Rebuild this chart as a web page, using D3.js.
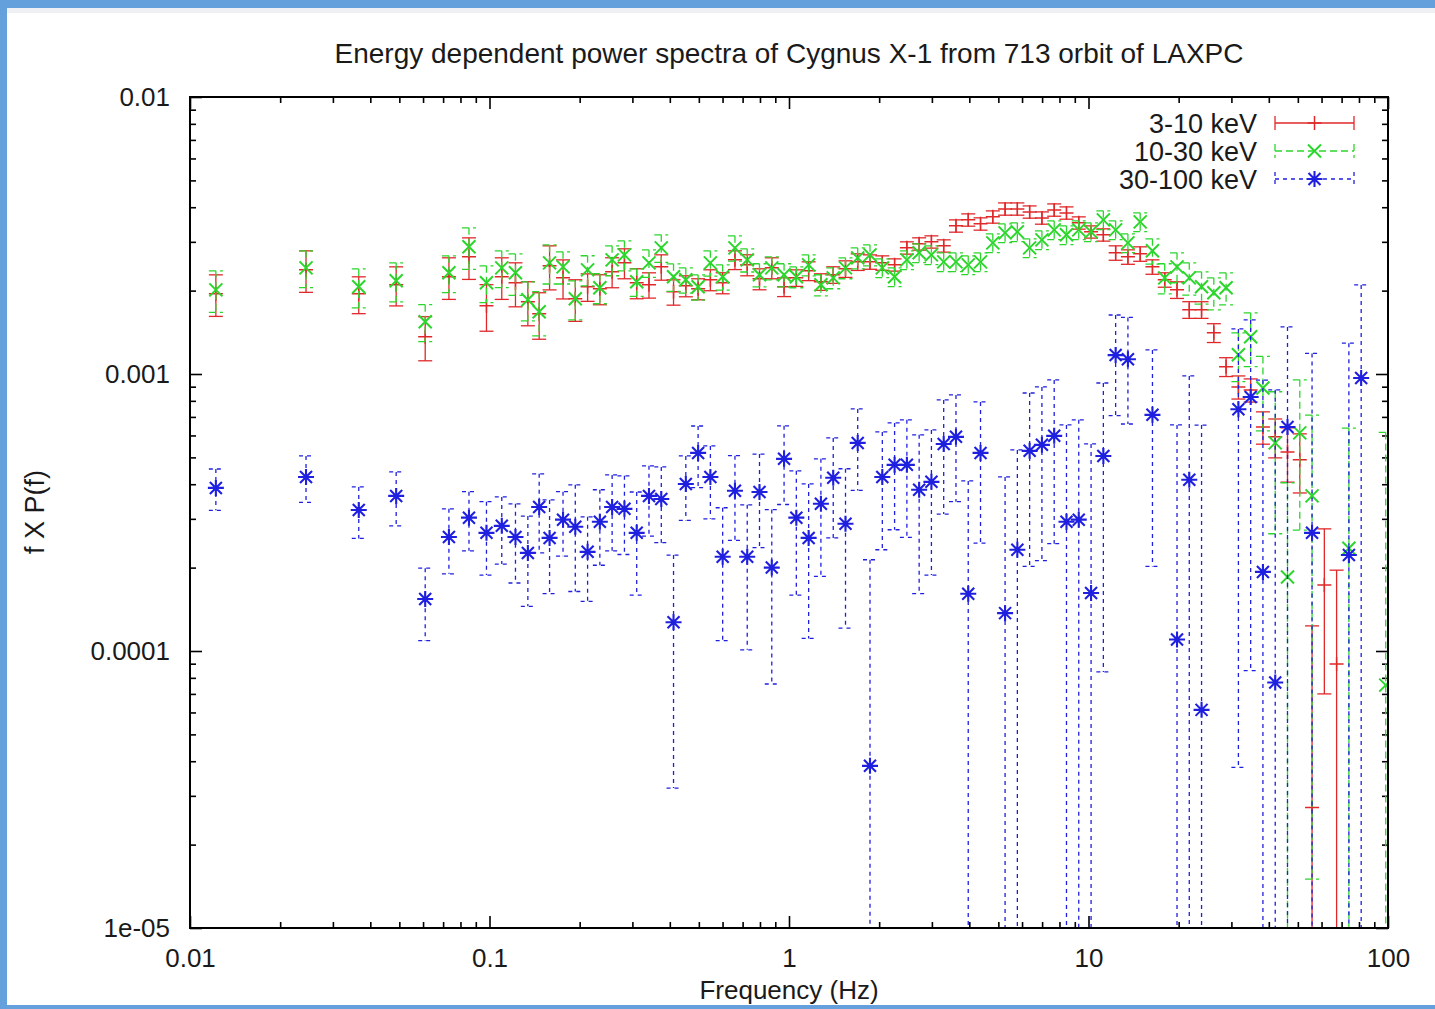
<!DOCTYPE html>
<html>
<head>
<meta charset="utf-8">
<script src="https://cdn.jsdelivr.net/npm/d3@7"></script>
<style>
  html, body { margin: 0; padding: 0; background: #fff; }
  svg { display: block; }
</style>
</head>
<body>
<svg id="chart" width="1435" height="1009"></svg>
<script>
// ---------------- DATA ----------------
const titleText = "Energy dependent power spectra of Cygnus X-1 from 713 orbit of LAXPC";
const xAxisLabel = "Frequency (Hz)";
const yAxisLabel = "f X P(f)";
const seriesNames = ["3-10 keV", "10-30 keV", "30-100 keV"];

const xTickValues = [0.01, 0.1, 1, 10, 100];
const xTickLabels = ["0.01", "0.1", "1", "10", "100"];
const yTickValues = [0.01, 0.001, 0.0001, 0.00001];
const yTickLabels = ["0.01", "0.001", "0.0001", "1e-05"];

const freqs = [
  0.0122, 0.0244, 0.0366, 0.0488, 0.0610, 0.0732, 0.0854, 0.0977, 0.1099, 0.1221, 0.1343, 0.1465, 0.1587,
  0.1760, 0.1934, 0.2126, 0.2336, 0.2567, 0.2822, 0.3101, 0.3408, 0.3746, 0.4116,
  0.4524, 0.4972, 0.5464, 0.6005, 0.6600, 0.7253, 0.7971, 0.8760, 0.9628, 1.058,
  1.163, 1.278, 1.405, 1.544, 1.696, 1.864, 2.049, 2.252, 2.475, 2.720,
  2.989, 3.285, 3.610, 3.967, 4.360, 4.792, 5.266, 5.787, 6.360, 6.990,
  7.682, 8.443, 9.278, 10.20, 11.21, 12.32, 13.54, 14.88, 16.35, 17.97,
  19.75, 21.70, 23.85, 26.21, 28.80, 31.66, 34.79, 38.23, 42.02, 46.18,
  50.75, 55.77, 61.30, 67.36, 74.03, 81.36, 89.42, 98.27
];

// 3-10 keV
const softVals = [
  1.947e-3, 2.377e-3, 1.947e-3, 2.099e-3, 1.363e-3, 2.243e-3, 2.648e-3, 1.764e-3, 2.243e-3, 2.134e-3, 1.823e-3, 1.650e-3, 2.457e-3,
  2.224e-3, 1.869e-3, 2.064e-3, 2.030e-3, 2.338e-3, 2.519e-3, 2.134e-3, 2.099e-3, 2.437e-3, 1.980e-3,
  2.081e-3, 2.030e-3, 2.188e-3, 2.134e-3, 2.583e-3, 2.478e-3, 2.206e-3, 2.417e-3, 2.064e-3, 2.224e-3,
  2.357e-3, 2.152e-3, 2.281e-3, 2.397e-3, 2.540e-3, 2.540e-3, 2.519e-3, 2.478e-3, 2.854e-3, 2.951e-3,
  3.000e-3, 2.902e-3, 3.426e-3, 3.601e-3, 3.484e-3, 3.692e-3, 3.945e-3, 3.945e-3, 3.848e-3, 3.661e-3,
  3.912e-3, 3.816e-3, 3.513e-3, 3.260e-3, 3.180e-3, 2.738e-3, 2.648e-3, 2.715e-3, 2.437e-3, 2.188e-3,
  2.013e-3, 1.706e-3, 1.706e-3, 1.409e-3, 1.062e-3, 8.98e-4, 8.76e-4, 6.44e-4, 5.93e-4, 5.23e-4,
  4.90e-4, 2.72e-5, 1.73e-4, 8.98e-5, null, null, null, null
];
const softErrs = [
  3.33e-4, 4.06e-4, 2.96e-4, 3.38e-4, 2.47e-4, 3.84e-4, 4.53e-4, 3.37e-4, 3.84e-4, 3.86e-4, 3.30e-4, 3.15e-4, 4.45e-4,
  3.58e-4, 3.20e-4, 2.35e-4, 2.52e-4, 2.90e-4, 3.12e-4, 2.65e-4, 2.20e-4, 2.56e-4, 2.08e-4,
  1.81e-4, 1.77e-4, 1.90e-4, 1.86e-4, 2.01e-4, 2.16e-4, 1.92e-4, 2.10e-4, 1.61e-4, 1.53e-4,
  1.84e-4, 1.48e-4, 1.57e-4, 1.65e-4, 1.75e-4, 1.52e-4, 1.51e-4, 1.26e-4, 1.46e-4, 1.51e-4,
  1.53e-4, 1.48e-4, 1.75e-4, 1.84e-4, 1.78e-4, 1.88e-4, 2.01e-4, 2.01e-4, 1.96e-4, 1.87e-4,
  2.00e-4, 1.95e-4, 1.79e-4, 1.66e-4, 1.62e-4, 1.64e-4, 1.59e-4, 1.63e-4, 1.46e-4, 1.31e-4,
  1.39e-4, 1.18e-4, 1.18e-4, 1.10e-4, 8.3e-5, 8.6e-5, 8.4e-5, 8.6e-5, 9.5e-5, 1.16e-4,
  1.18e-4, 9.6e-5, 1.03e-4, 1.06e-4, null, null, null, null
];

// 10-30 keV
const midVals = [
  2.013e-3, 2.417e-3, 2.064e-3, 2.170e-3, 1.544e-3, 2.319e-3, 2.878e-3, 2.134e-3, 2.417e-3, 2.319e-3, 1.853e-3, 1.678e-3, 2.519e-3,
  2.437e-3, 1.869e-3, 2.377e-3, 2.047e-3, 2.583e-3, 2.692e-3, 2.152e-3, 2.519e-3, 2.854e-3, 2.243e-3,
  2.188e-3, 2.064e-3, 2.519e-3, 2.243e-3, 2.854e-3, 2.583e-3, 2.281e-3, 2.417e-3, 2.281e-3, 2.243e-3,
  2.478e-3, 2.099e-3, 2.224e-3, 2.417e-3, 2.626e-3, 2.692e-3, 2.417e-3, 2.243e-3, 2.583e-3, 2.738e-3,
  2.692e-3, 2.540e-3, 2.540e-3, 2.478e-3, 2.540e-3, 2.975e-3, 3.233e-3, 3.260e-3, 2.854e-3, 3.050e-3,
  3.314e-3, 3.180e-3, 3.314e-3, 3.260e-3, 3.601e-3, 3.314e-3, 2.975e-3, 3.542e-3, 2.784e-3, 2.224e-3,
  2.437e-3, 2.224e-3, 2.064e-3, 1.964e-3, 2.047e-3, 1.173e-3, 1.363e-3, 8.90e-4, 5.64e-4, 1.85e-4,
  6.13e-4, 3.63e-4, null, null, 2.35e-4, null, null, 7.53e-5
];
const midErrs = [
  3.44e-4, 3.67e-4, 3.32e-4, 3.49e-4, 2.35e-4, 3.52e-4, 4.92e-4, 3.24e-4, 3.67e-4, 3.97e-4, 2.98e-4, 3.04e-4, 4.06e-4,
  3.24e-4, 3.01e-4, 2.95e-4, 2.54e-4, 3.20e-4, 3.34e-4, 2.45e-4, 2.87e-4, 3.25e-4, 2.56e-4,
  2.30e-4, 2.17e-4, 2.64e-4, 2.36e-4, 3.00e-4, 2.48e-4, 2.19e-4, 2.32e-4, 2.19e-4, 1.95e-4,
  2.16e-4, 1.83e-4, 1.93e-4, 2.10e-4, 2.28e-4, 2.34e-4, 1.89e-4, 1.75e-4, 2.01e-4, 2.14e-4,
  2.10e-4, 1.98e-4, 1.98e-4, 1.93e-4, 1.98e-4, 2.32e-4, 2.52e-4, 2.54e-4, 2.23e-4, 2.38e-4,
  2.58e-4, 2.48e-4, 2.58e-4, 2.54e-4, 2.81e-4, 2.58e-4, 2.32e-4, 2.76e-4, 2.92e-4, 2.76e-4,
  3.02e-4, 2.96e-4, 2.75e-4, 2.61e-4, 2.72e-4, 2.35e-4, 3.00e-4, 2.67e-4, 2.99e-4, 2.20e-4,
  3.40e-4, 3.48e-4, null, null, 4.03e-4, null, null, 5.40e-4
];

// 30-100 keV
const hardVals = [
  3.88e-4, 4.25e-4, 3.23e-4, 3.63e-4, 1.54e-4, 2.58e-4, 3.03e-4, 2.67e-4, 2.83e-4, 2.58e-4, 2.26e-4, 3.31e-4, 2.56e-4,
  2.98e-4, 2.81e-4, 2.28e-4, 2.93e-4, 3.31e-4, 3.26e-4, 2.67e-4, 3.63e-4, 3.54e-4, 1.27e-4,
  4.01e-4, 5.19e-4, 4.25e-4, 2.19e-4, 3.79e-4, 2.19e-4, 3.75e-4, 2.00e-4, 4.94e-4, 3.03e-4,
  2.56e-4, 3.40e-4, 4.22e-4, 2.88e-4, 5.64e-4, 3.85e-5, 4.25e-4, 4.70e-4, 4.70e-4, 3.82e-4,
  4.08e-4, 5.59e-4, 5.93e-4, 1.61e-4, 5.19e-4, null, 1.37e-4, 2.32e-4, 5.28e-4, 5.55e-4,
  5.98e-4, 2.93e-4, 2.98e-4, 1.62e-4, 5.06e-4, 1.17e-3, 1.13e-3, null, 7.12e-4, null,
  1.10e-4, 4.15e-4, 6.13e-5, null, null, 7.46e-4, 8.26e-4, 1.93e-4, 7.7e-5, 6.44e-4,
  null, 2.67e-4, null, null, 2.22e-4, 9.67e-4, null, null
];
const hardErrs = [
  6.6e-5, 8.1e-5, 6.8e-5, 8.0e-5, 4.5e-5, 6.8e-5, 7.3e-5, 7.9e-5, 7.7e-5, 8.2e-5, 8.1e-5, 1.05e-4, 9.5e-5,
  7.8e-5, 1.17e-4, 7.7e-5, 8.9e-5, 1.01e-4, 1.03e-4, 1.08e-4, 1.03e-4, 1.08e-4, 9.5e-5,
  1.05e-4, 1.30e-4, 1.25e-4, 1.10e-4, 1.28e-4, 1.18e-4, 1.39e-4, 1.24e-4, 1.56e-4, 1.44e-4,
  1.45e-4, 1.54e-4, 1.66e-4, 1.67e-4, 1.84e-4, 1.75e-4, 1.93e-4, 1.96e-4, 2.13e-4, 2.21e-4,
  2.20e-4, 2.47e-4, 2.47e-4, 2.50e-4, 2.74e-4, null, 2.88e-4, 3.00e-4, 3.26e-4, 3.43e-4,
  3.54e-4, 3.62e-4, 3.85e-4, 3.97e-4, 4.22e-4, 4.63e-4, 4.70e-4, null, 5.10e-4, null,
  5.45e-4, 5.69e-4, 5.93e-4, null, null, 7.08e-4, 7.41e-4, 7.58e-4, 8.0e-4, 8.35e-4,
  null, 9.2e-4, null, null, 1.07e-3, 1.13e-3, null, null
];

// ---------------- LAYOUT / STYLE ----------------
const W = 1435, H = 1009;
const PL = 190, PR = 1388, PT = 97, PB = 928;
const FONT = '"Liberation Sans", Arial, Helvetica, sans-serif';
const TEXT_COLOR = "#1a1a1a";

const svg = d3.select("#chart");
svg.append("rect").attr("width", W).attr("height", H).attr("fill", "#fff");

const x = d3.scaleLog().domain([0.01, 100]).range([PL, PR]);
const y = d3.scaleLog().domain([1e-5, 0.01]).range([PB, PT]);

svg.append("defs").append("clipPath").attr("id", "plotclip")
  .append("rect").attr("x", PL).attr("y", PT).attr("width", PR - PL).attr("height", PB - PT);

// ---------- axes ----------
function isMajor(list, t) { return list.some(m => Math.abs(m - t) / m < 1e-6); }
const xMinor = x.ticks().filter(t => !isMajor(xTickValues, t));
const yMinor = y.ticks().filter(t => !isMajor(yTickValues, t));

function styleAxis(g) {
  g.select(".domain").remove();
  g.selectAll(".tick line").attr("stroke", "#000").attr("stroke-width", 1.6);
  g.selectAll(".tick text").attr("font-family", FONT).attr("font-size", 26).attr("fill", TEXT_COLOR);
}

// bottom
svg.append("g").attr("transform", `translate(0,${PB})`)
  .call(d3.axisBottom(x).tickValues(xMinor).tickSize(-6).tickSizeOuter(0).tickFormat(""))
  .call(styleAxis);
svg.append("g").attr("transform", `translate(0,${PB})`)
  .call(d3.axisBottom(x).tickValues(xTickValues).tickSize(-12).tickSizeOuter(0).tickPadding(21)
    .tickFormat((d, i) => xTickLabels[i]))
  .call(styleAxis);
// top
svg.append("g").attr("transform", `translate(0,${PT})`)
  .call(d3.axisTop(x).tickValues(xMinor).tickSize(-6).tickSizeOuter(0).tickFormat(""))
  .call(styleAxis);
svg.append("g").attr("transform", `translate(0,${PT})`)
  .call(d3.axisTop(x).tickValues(xTickValues).tickSize(-12).tickSizeOuter(0).tickFormat(""))
  .call(styleAxis);
// left
svg.append("g").attr("transform", `translate(${PL},0)`)
  .call(d3.axisLeft(y).tickValues(yMinor).tickSize(-6).tickSizeOuter(0).tickFormat(""))
  .call(styleAxis);
svg.append("g").attr("transform", `translate(${PL},0)`)
  .call(d3.axisLeft(y).tickValues(yTickValues).tickSize(-12).tickSizeOuter(0).tickPadding(20)
    .tickFormat((d, i) => yTickLabels[i]))
  .call(styleAxis);
// right
svg.append("g").attr("transform", `translate(${PR},0)`)
  .call(d3.axisRight(y).tickValues(yMinor).tickSize(-6).tickSizeOuter(0).tickFormat(""))
  .call(styleAxis);
svg.append("g").attr("transform", `translate(${PR},0)`)
  .call(d3.axisRight(y).tickValues(yTickValues).tickSize(-12).tickSizeOuter(0).tickFormat(""))
  .call(styleAxis);

// ---------- series ----------
const markerPaths = {
  plus: "M-7,0H7M0,-7V7",
  cross: "M-6.5,-6.5L6.5,6.5M-6.5,6.5L6.5,-6.5",
  star: "M-8,0H8M0,-8V8M-6,-6L6,6M-6,6L6,-6"
};

const series = [
  { name: seriesNames[0], vals: softVals, errs: softErrs, color: "#e0282a", dash: null, marker: "plus", mw: 1.5 },
  { name: seriesNames[1], vals: midVals, errs: midErrs, color: "#2bd62b", dash: "7,4", marker: "cross", mw: 2 },
  { name: seriesNames[2], vals: hardVals, errs: hardErrs, color: "#1f1fe0", dash: "4,4", marker: "star", mw: 2.1 }
];

const CAP = 7;
const plotG = svg.append("g").attr("clip-path", "url(#plotclip)");

series.forEach(s => {
  const pts = freqs.map((f, i) => ({ f, v: s.vals[i], e: s.errs[i] }))
    .filter(p => p.v !== null && p.v > 0);
  const g = plotG.append("g");
  const eb = g.append("g").attr("stroke", s.color).attr("stroke-width", 1.3).attr("fill", "none");
  if (s.dash) eb.attr("stroke-dasharray", s.dash);
  pts.forEach(p => {
    const cx = x(p.f);
    const hi = p.v + p.e, lo = p.v - p.e;
    const yHi = y(hi);
    const yLo = lo > 0 ? y(lo) : PB + 20;
    eb.append("line").attr("x1", cx).attr("x2", cx).attr("y1", yHi).attr("y2", yLo);
    eb.append("line").attr("x1", cx - CAP).attr("x2", cx + CAP).attr("y1", yHi).attr("y2", yHi);
    if (lo > 0) eb.append("line").attr("x1", cx - CAP).attr("x2", cx + CAP).attr("y1", yLo).attr("y2", yLo);
  });
  g.append("g").selectAll("path").data(pts).join("path")
    .attr("d", markerPaths[s.marker])
    .attr("transform", p => `translate(${x(p.f)},${y(p.v)})`)
    .attr("stroke", s.color).attr("stroke-width", s.mw).attr("fill", "none");
});

// frame
svg.append("rect").attr("x", PL).attr("y", PT).attr("width", PR - PL).attr("height", PB - PT)
  .attr("fill", "none").attr("stroke", "#000").attr("stroke-width", 2);

// ---------- legend ----------
const legRows = [123, 151, 179];
const legTextX = 1257, legX1 = 1275, legX2 = 1354, legMid = 1314.5;
series.forEach((s, i) => {
  const ly = legRows[i];
  svg.append("text").attr("x", legTextX).attr("y", ly + 10)
    .attr("text-anchor", "end").attr("font-family", FONT).attr("font-size", 27)
    .attr("fill", TEXT_COLOR).text(s.name);
  const lg = svg.append("g").attr("stroke", s.color).attr("stroke-width", 1.3).attr("fill", "none");
  if (s.dash) lg.attr("stroke-dasharray", s.dash);
  lg.append("line").attr("x1", legX1).attr("x2", legX2).attr("y1", ly).attr("y2", ly);
  lg.append("line").attr("x1", legX1).attr("x2", legX1).attr("y1", ly - CAP).attr("y2", ly + CAP);
  lg.append("line").attr("x1", legX2).attr("x2", legX2).attr("y1", ly - CAP).attr("y2", ly + CAP);
  svg.append("path").attr("d", markerPaths[s.marker])
    .attr("transform", `translate(${legMid},${ly})`)
    .attr("stroke", s.color).attr("stroke-width", s.mw).attr("fill", "none");
});

// ---------- titles ----------
svg.append("text").attr("x", (PL + PR) / 2).attr("y", 63)
  .attr("text-anchor", "middle").attr("font-family", FONT).attr("font-size", 28)
  .attr("fill", TEXT_COLOR).text(titleText);
svg.append("text").attr("x", (PL + PR) / 2).attr("y", 999)
  .attr("text-anchor", "middle").attr("font-family", FONT).attr("font-size", 26)
  .attr("fill", TEXT_COLOR).text(xAxisLabel);
svg.append("text").attr("transform", `translate(44,512) rotate(-90)`)
  .attr("text-anchor", "middle").attr("font-family", FONT).attr("font-size", 27)
  .attr("fill", TEXT_COLOR).text(yAxisLabel);

// ---------- page frame ----------
const FRAME = "#64a0dc";
svg.append("rect").attr("x", 7).attr("y", 8).attr("width", W - 7).attr("height", 5).attr("fill", "#eef0f3");
svg.append("rect").attr("x", 0).attr("y", 0).attr("width", W).attr("height", 8).attr("fill", FRAME);
svg.append("rect").attr("x", 0).attr("y", 0).attr("width", 7).attr("height", H).attr("fill", FRAME);
svg.append("rect").attr("x", 0).attr("y", 1005).attr("width", W).attr("height", 4).attr("fill", FRAME);
</script>
</body>
</html>
